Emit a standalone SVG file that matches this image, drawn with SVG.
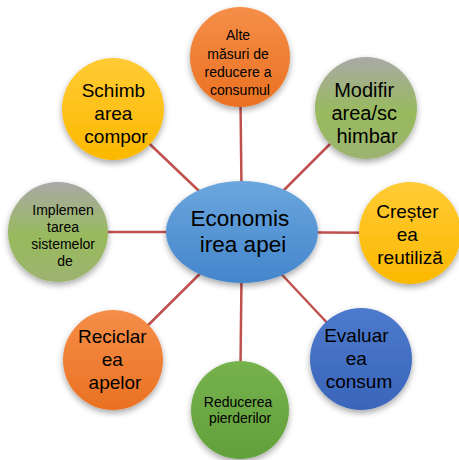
<svg xmlns="http://www.w3.org/2000/svg" width="459" height="460" viewBox="0 0 459 460">
  <defs>
    <linearGradient id="gOrange" x1="0" y1="0" x2="0" y2="1">
      <stop offset="0" stop-color="#F58E48"/>
      <stop offset="1" stop-color="#EA7122"/>
    </linearGradient>
    <linearGradient id="gGold" x1="0" y1="0" x2="0" y2="1">
      <stop offset="0" stop-color="#FFCB35"/>
      <stop offset="1" stop-color="#FBB800"/>
    </linearGradient>
    <linearGradient id="gOlive" x1="0" y1="0" x2="0" y2="1">
      <stop offset="0" stop-color="#A9A9A6"/>
      <stop offset="0.55" stop-color="#98BA5C"/>
      <stop offset="1" stop-color="#9DB372"/>
    </linearGradient>
    <linearGradient id="gBlue" x1="0" y1="0" x2="0" y2="1">
      <stop offset="0" stop-color="#4D7ACC"/>
      <stop offset="1" stop-color="#3A65BA"/>
    </linearGradient>
    <linearGradient id="gGreen" x1="0" y1="0" x2="0" y2="1">
      <stop offset="0" stop-color="#76B24D"/>
      <stop offset="1" stop-color="#62A03B"/>
    </linearGradient>
    <linearGradient id="gCenter" x1="0" y1="0" x2="0" y2="1">
      <stop offset="0" stop-color="#6BA6DD"/>
      <stop offset="1" stop-color="#4486CC"/>
    </linearGradient>
    <filter id="shadow" x="-30%" y="-30%" width="160%" height="170%">
      <feDropShadow dx="0" dy="3" stdDeviation="3" flood-color="#000" flood-opacity="0.35"/>
    </filter>
  </defs>
  <style>
    .link { stroke: #C0504D; stroke-width: 2.5; fill: none; }
    .node { filter: url(#shadow); }
    .label { font-family: "Liberation Sans", Arial, sans-serif; fill: #000; text-anchor: middle; }
    .big { font-size: 19px; }
    .small { font-size: 14px; }
    .hub { font-size: 22.5px; }
  </style>

  <rect width="459" height="460" fill="#FFFFFF"/>

  <!-- spokes from the hub to each satellite -->
  <g id="connectors">
    <line class="link" x1="242" y1="232" x2="240" y2="58"/>
    <line class="link" x1="242" y1="232" x2="366" y2="108"/>
    <line class="link" x1="242" y1="232" x2="410" y2="233"/>
    <line class="link" x1="242" y1="232" x2="361" y2="359"/>
    <line class="link" x1="242" y1="232" x2="240" y2="410"/>
    <line class="link" x1="242" y1="232" x2="113" y2="360"/>
    <line class="link" x1="242" y1="232" x2="58" y2="232"/>
    <line class="link" x1="242" y1="232" x2="113" y2="109"/>
  </g>

  <g id="node-alte">
    <circle class="node" cx="240" cy="57" r="50" fill="url(#gOrange)"/>
    <text class="label small">
      <tspan x="240" y="40">Alte</tspan>
      <tspan x="240" y="59">măsuri de</tspan>
      <tspan x="240" y="77">reducere a</tspan>
      <tspan x="240" y="95">consumul</tspan>
    </text>
  </g>

  <g id="node-modificare">
    <circle class="node" cx="366" cy="108" r="51" fill="url(#gOlive)"/>
    <text class="label" font-size="20">
      <tspan x="367" y="97">Modifir</tspan>
      <tspan x="367" y="120">area/sc</tspan>
      <tspan x="367" y="143">himbar</tspan>
    </text>
  </g>

  <g id="node-crestere">
    <circle class="node" cx="410" cy="233" r="51" fill="url(#gGold)"/>
    <text class="label big">
      <tspan x="410" y="218">Creșter</tspan>
      <tspan x="410" y="241">ea</tspan>
      <tspan x="410" y="264">reutiliză</tspan>
    </text>
  </g>

  <g id="node-evaluare">
    <circle class="node" cx="361" cy="359" r="51" fill="url(#gBlue)"/>
    <text class="label big">
      <tspan x="359" y="342">Evaluar</tspan>
      <tspan x="359" y="365">ea</tspan>
      <tspan x="359" y="388">consum</tspan>
    </text>
  </g>

  <g id="node-reducerea">
    <circle class="node" cx="240" cy="410" r="49" fill="url(#gGreen)"/>
    <text class="label small">
      <tspan x="240" y="407">Reducerea</tspan>
      <tspan x="240" y="423">pierderilor</tspan>
    </text>
  </g>

  <g id="node-reciclare">
    <circle class="node" cx="113" cy="360" r="50" fill="url(#gOrange)"/>
    <text class="label big">
      <tspan x="115" y="343">Reciclar</tspan>
      <tspan x="115" y="366">ea</tspan>
      <tspan x="115" y="389">apelor</tspan>
    </text>
  </g>

  <g id="node-implementare">
    <circle class="node" cx="58" cy="232" r="50" fill="url(#gOlive)"/>
    <text class="label small">
      <tspan x="65" y="215">Implemen</tspan>
      <tspan x="65" y="232">tarea</tspan>
      <tspan x="65" y="249">sistemelor</tspan>
      <tspan x="65" y="266">de</tspan>
    </text>
  </g>

  <g id="node-schimbare">
    <circle class="node" cx="113" cy="109" r="51" fill="url(#gGold)"/>
    <text class="label big">
      <tspan x="116" y="97">Schimb</tspan>
      <tspan x="116" y="120">area</tspan>
      <tspan x="116" y="143">compor</tspan>
    </text>
  </g>

  <g id="node-hub">
    <ellipse class="node" cx="242" cy="232" rx="76" ry="51" fill="url(#gCenter)"/>
    <text class="label hub">
      <tspan x="243" y="226">Economis</tspan>
      <tspan x="243" y="252">irea apei</tspan>
    </text>
  </g>
</svg>
